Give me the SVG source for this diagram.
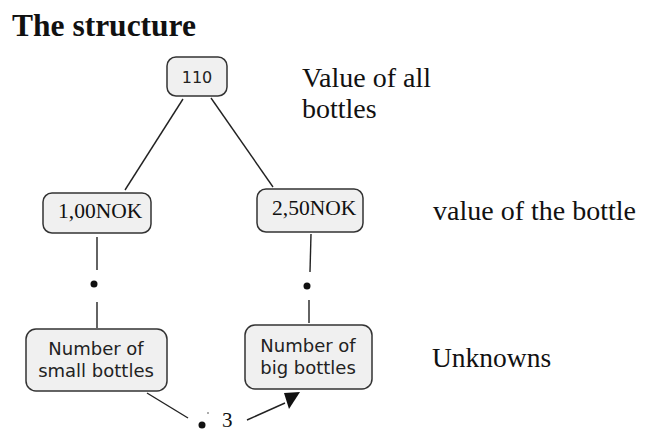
<svg xmlns="http://www.w3.org/2000/svg" width="645" height="432" viewBox="0 0 645 432">
<style>
.box{fill:#f0f0f0;stroke:#333;stroke-width:1.5}
.sans{font-family:"DejaVu Sans","Verdana",sans-serif;fill:#222}
.serif{font-family:"Liberation Serif","Times New Roman",serif;fill:#111}
.ln{stroke:#222;stroke-width:1.4;fill:none}
</style>
<rect width="645" height="432" fill="#fff"/>
<text class="serif" x="12" y="36" font-size="31.5" font-weight="bold">The structure</text>
<text class="serif" x="302" y="87" font-size="28">Value of all</text>
<text class="serif" x="302" y="118" font-size="28">bottles</text>
<text class="serif" x="433" y="220" font-size="28">value of the bottle</text>
<text class="serif" x="432" y="367" font-size="27.5">Unknowns</text>
<g id="connectors">
<line class="ln" x1="183" y1="99" x2="125" y2="190"/>
<line class="ln" x1="211" y1="98" x2="273" y2="187"/>
<line class="ln" x1="97" y1="237" x2="97" y2="270"/>
<circle cx="94" cy="284" r="3.5" fill="#111"/>
<line class="ln" x1="97" y1="302" x2="97" y2="328"/>
<line class="ln" x1="311" y1="234" x2="310" y2="272"/>
<circle cx="307" cy="286" r="3.5" fill="#111"/>
<line class="ln" x1="309" y1="300" x2="309" y2="323"/>
<line class="ln" x1="147" y1="393" x2="188" y2="418"/>
<circle cx="202" cy="425" r="3.5" fill="#111"/>
<circle cx="208" cy="413" r="0.8" fill="#444"/>
<text class="serif" x="222" y="427" font-size="21">3</text>
<line class="ln" x1="247" y1="420" x2="285" y2="403"/>
<polygon points="284,393 300,392 289,409" fill="#111"/>
</g>
<g id="n110">
<rect class="box" x="167" y="57" width="60" height="39" rx="9"/>
<text class="sans" x="197" y="83" font-size="16" text-anchor="middle">110</text>
</g>
<g id="n100">
<rect class="box" x="43" y="193" width="108" height="40" rx="9"/>
<text class="serif" x="58" y="218" font-size="21.5">1,00NOK</text>
</g>
<g id="n250">
<rect class="box" x="257" y="189" width="106" height="43" rx="9"/>
<text class="serif" x="272" y="215" font-size="21.5">2,50NOK</text>
</g>
<g id="nSmall">
<rect class="box" x="26" y="329" width="141" height="62" rx="10"/>
<text class="sans" x="96" y="355" font-size="18" text-anchor="middle">Number of</text>
<text class="sans" x="96" y="377" font-size="18" text-anchor="middle">small bottles</text>
</g>
<g id="nBig">
<rect class="box" x="245" y="325" width="127" height="64" rx="10"/>
<text class="sans" x="308" y="352" font-size="18" text-anchor="middle">Number of</text>
<text class="sans" x="308" y="374" font-size="18" text-anchor="middle">big bottles</text>
</g>
</svg>
